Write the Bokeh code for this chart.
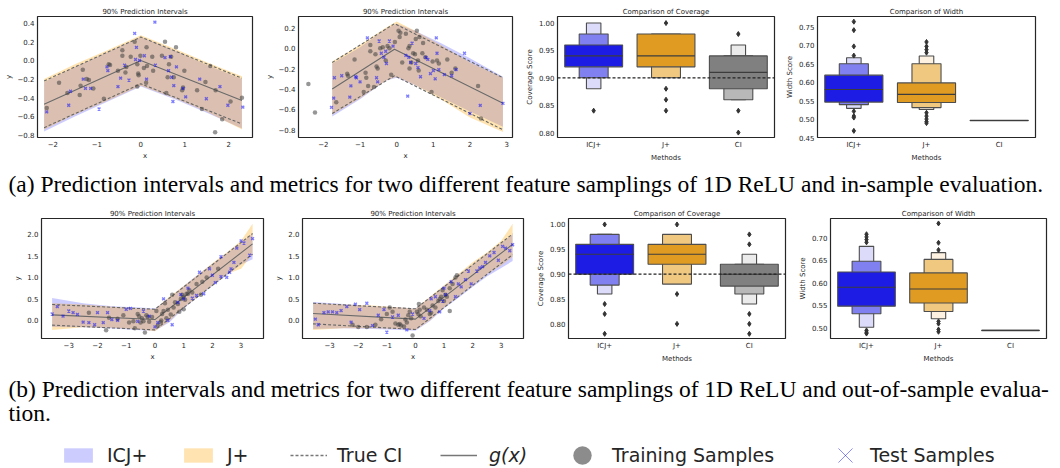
from bokeh.plotting import figure
from bokeh.layouts import column, row
from bokeh.models import Range1d, Span, Label, Legend, LegendItem, CustomJSTickFormatter
from bokeh.embed import file_html
from bokeh.resources import INLINE

# ---------------- data ----------------
methods = ["ICJ+", "J+", "CI"]

# Panel (a) left
p1_train_x = [-2.14,-1.86,-1.67,-1.39,-1.37,-1.32,-1.23,-1.18,-1.08,-0.84,-0.73,-0.70,-0.52,-0.42,-0.42,-0.35,-0.33,-0.23,-0.14,-0.08,-0.08,-0.06,-0.05,-0.01,0.07,0.12,0.13,0.14,0.26,0.28,0.48,0.55,0.58,0.61,0.64,0.69,0.80,0.75,0.94,0.96,0.99,1.28,1.39,1.47,1.58,1.70,1.85,1.69,2.04,2.30]
p1_train_y = [-0.51,-0.24,-0.35,-0.37,-0.27,-0.10,-0.20,-0.21,-0.30,-0.41,-0.04,-0.05,-0.11,0.11,0.05,-0.13,-0.07,0.04,0.20,-0.04,-0.28,-0.14,-0.16,0.05,-0.08,-0.24,0.14,-0.06,0.04,-0.11,0.05,0.20,-0.35,-0.18,-0.04,0.04,0.14,-0.18,-0.32,-0.29,-0.11,-0.32,-0.52,-0.23,-0.06,-0.32,-0.63,-0.77,-0.44,-0.40]
p1_test_x = [-2.14,-1.64,-1.60,-1.31,-1.26,-1.14,-0.95,-0.77,-0.75,-0.52,-0.46,-0.37,-0.27,-0.14,-0.12,-0.10,-0.03,0.08,0.13,0.32,0.33,0.55,0.63,0.67,0.70,0.73,0.75,0.81,0.96,1.02,1.34,1.49,1.80,1.98,2.32]
p1_test_y = [-0.55,-0.48,-0.33,-0.20,-0.30,-0.30,-0.52,-0.07,-0.11,-0.28,-0.19,-0.05,-0.21,0.29,0.01,0.14,0.00,0.05,-0.20,0.41,-0.05,0.03,-0.11,0.04,-0.18,-0.44,-0.27,-0.07,-0.30,-0.39,-0.20,-0.41,-0.28,-0.48,-0.50]
p1_g_x = [-2.2, 0.0, 2.3]
p1_g_y = [-0.47, 0.0, -0.43]
p1_ci_lo = [-0.72, -0.25, -0.68]
p1_ci_hi = [-0.22, 0.25, -0.19]
p1_band_x = [-2.2, -1.5, -0.8, 0.0, 0.8, 1.5, 2.3]
p1_icj_lo = [-0.76, -0.60, -0.45, -0.28, -0.42, -0.56, -0.73]
p1_icj_hi = [-0.23, -0.07, 0.08, 0.25, 0.10, -0.05, -0.20]
p1_jp_lo = [-0.74, -0.58, -0.44, -0.27, -0.41, -0.55, -0.74]
p1_jp_hi = [-0.20, -0.04, 0.10, 0.27, 0.12, -0.02, -0.17]
p1_xticks = [-2, -1, 0, 1, 2]
p1_yticks = [-0.8, -0.6, -0.4, -0.2, 0.0, 0.2, 0.4]

# Panel (a) second
p2_train_x = [-2.41,-2.23,-1.65,-1.35,-1.33,-1.15,-0.85,-0.83,-0.72,-0.72,-0.58,-0.55,-0.52,-0.45,-0.38,-0.30,-0.25,-0.20,-0.15,-0.05,0.05,0.08,0.10,0.15,0.25,0.32,0.35,0.35,0.40,0.45,0.50,0.52,0.55,0.58,0.60,0.62,0.70,0.72,0.78,0.95,0.98,1.10,1.15,1.38,1.50,1.60,2.22,2.30,-0.90,-0.78,-0.62]
p2_train_y = [-0.35,-0.63,-0.53,-0.25,-0.27,-0.11,-0.24,-0.29,-0.03,0.03,-0.06,-0.18,-0.20,0.00,0.01,-0.12,0.02,0.00,-0.26,0.06,0.17,0.11,0.15,-0.14,0.14,0.00,0.02,-0.20,-0.14,-0.05,-0.06,0.09,0.17,-0.12,-0.22,0.11,-0.05,0.05,-0.09,-0.43,-0.13,-0.12,-0.15,-0.11,-0.24,-0.20,-0.37,-0.69,-0.43,-0.37,-0.38]
p2_test_x = [-1.78,-1.72,-1.70,-1.50,-1.28,-1.25,-1.12,-1.10,-1.00,-0.80,-0.55,-0.52,-0.48,-0.42,-0.35,-0.30,-0.28,-0.20,-0.10,0.25,0.30,0.33,0.38,0.42,0.52,0.58,0.65,0.80,0.85,0.92,1.00,1.05,1.08,1.10,1.15,1.30,1.50,1.62,1.85,2.00,2.28,2.90]
p2_test_y = [-0.58,-0.49,-0.29,-0.27,-0.48,-0.37,-0.28,-0.29,-0.33,0.10,-0.29,-0.33,0.07,-0.05,-0.09,-0.03,-0.15,0.07,0.02,-0.07,-0.47,-0.09,-0.14,0.05,-0.15,-0.19,-0.28,-0.09,-0.11,-0.25,-0.22,-0.30,0.10,-0.05,-0.21,-0.26,-0.27,-0.21,-0.05,-0.64,-0.56,-0.54]
p2_g_x = [-1.76, -0.06, 2.9]
p2_g_y = [-0.40, -0.01, -0.54]
p2_ci_lo = [-0.64, -0.27, -0.80]
p2_ci_hi = [-0.14, 0.24, -0.29]
p2_band_x = [-1.76, -1.0, -0.3, 0.0, 0.5, 1.2, 2.0, 2.9]
p2_icj_lo = [-0.67, -0.50, -0.32, -0.29, -0.36, -0.48, -0.62, -0.77]
p2_icj_hi = [-0.15, 0.01, 0.19, 0.24, 0.17, 0.05, -0.10, -0.28]
p2_jp_lo = [-0.65, -0.49, -0.32, -0.28, -0.36, -0.50, -0.68, -0.82]
p2_jp_hi = [-0.13, 0.03, 0.20, 0.26, 0.17, 0.03, -0.14, -0.29]
p2_xticks = [-2, -1, 0, 1, 2, 3]
p2_yticks = [-0.8, -0.6, -0.4, -0.2, 0.0, 0.2]

# Panel (b) left
p5_train_x = [-2.3,-1.7,-1.6,-1.3,-1.1,-0.9,-0.75,-0.7,-0.6,-0.55,-0.5,-0.45,-0.4,-0.35,-0.3,-0.25,-0.2,-0.1,0.05,0.1,0.2,0.22,0.25,0.3,0.35,0.4,0.45,0.55,0.6,0.65,0.7,0.8,0.85,0.9,0.95,1.0,1.05,1.1,1.15,1.2,1.3,1.45,1.6,1.65,1.8,2.2,1.0]
p5_train_y = [0.18,-0.23,0.06,0.04,0.12,-0.05,-0.02,-0.18,0.15,0.10,-0.05,0.05,-0.02,-0.28,0.12,0.08,-0.03,0.08,0.22,-0.12,-0.04,0.00,0.15,0.22,0.40,0.05,0.25,0.14,0.60,0.30,0.42,0.38,0.20,0.50,0.60,0.55,0.48,0.62,0.62,0.70,0.65,0.85,0.60,0.90,1.00,1.20,0.26]
p5_test_x = [-3.58,-3.4,-3.2,-3.0,-2.85,-2.7,-2.5,-2.3,-2.1,-2.0,-1.8,-1.65,-1.5,-1.3,-1.0,-0.85,-0.6,-0.4,-0.2,0.0,0.1,0.3,0.45,0.6,0.8,0.9,1.0,1.15,1.3,1.45,1.55,1.7,1.9,2.0,2.1,2.3,2.5,2.6,2.75,2.85,3.0,3.1,3.3,3.4,2.3,2.65]
p5_test_y = [0.15,0.32,0.10,0.22,0.18,0.14,-0.04,-0.05,-0.10,0.18,-0.05,0.18,0.02,0.00,0.26,0.28,-0.02,0.22,0.10,-0.15,-0.05,0.50,0.00,-0.10,0.42,0.60,0.50,0.75,0.52,0.58,1.12,0.62,1.20,1.05,0.88,1.02,1.00,1.12,1.35,1.68,1.85,1.80,1.52,1.90,1.48,1.20]
p5_g_x = [-3.58, 0.0, 3.4]
p5_g_y = [0.13, 0.02, 1.78]
p5_ci_lo = [-0.11, -0.22, 1.54]
p5_ci_hi = [0.37, 0.26, 2.02]
band_x_b = [-3.58, -2.5, -1.5, -0.5, 0.0, 0.5, 1.0, 1.5, 2.0, 2.5, 3.0, 3.4]
p5_icj_lo = [-0.15, -0.16, -0.19, -0.23, -0.24, -0.05, 0.28, 0.55, 0.80, 1.05, 1.30, 1.42]
p5_icj_hi = [0.52, 0.40, 0.33, 0.30, 0.28, 0.52, 0.80, 1.07, 1.32, 1.56, 1.80, 2.02]
p5_jp_lo = [-0.22, -0.16, -0.17, -0.21, -0.25, -0.02, 0.30, 0.56, 0.82, 1.08, 1.20, 1.55]
p5_jp_hi = [0.40, 0.37, 0.32, 0.28, 0.26, 0.55, 0.80, 1.06, 1.33, 1.58, 1.85, 2.25]

# Panel (b) second
p6_train_x = [-2.2,-2.0,-1.7,-1.4,-1.2,-1.0,-0.9,-0.8,-0.7,-0.6,-0.55,-0.5,-0.4,-0.35,-0.3,-0.25,-0.2,-0.15,-0.1,0.05,0.1,0.12,0.15,0.18,0.3,0.4,0.5,0.55,0.6,0.7,0.8,0.85,0.9,0.95,1.0,1.05,1.1,1.2,1.3,1.4,1.45,1.2]
p6_train_y = [-0.1,-0.15,-0.15,-0.1,0.03,0.15,0.3,0.2,-0.07,-0.1,-0.08,-0.12,-0.14,0.02,-0.05,0.12,0.2,0.05,-0.35,0.2,0.15,0.38,0.25,0.1,0.3,0.25,0.15,0.18,0.35,0.3,0.45,0.5,0.55,0.7,0.45,0.6,0.55,0.22,0.85,1.0,1.05,0.75]
p6_test_x = [-3.5,-3.4,-3.2,-3.05,-2.9,-2.75,-2.6,-2.4,-2.25,-2.1,-1.95,-1.7,-1.5,-1.3,-1.1,-1.0,-0.8,-0.6,-0.3,-0.1,0.3,0.5,0.55,0.7,0.85,0.95,1.0,1.05,1.25,1.4,1.5,1.6,1.75,1.85,1.95,2.15,2.25,2.35,2.45,2.6,2.75,2.9,3.05,3.15,3.3,3.4]
p6_test_y = [0.03,-0.1,0.18,0.2,0.2,0.18,0.23,0.32,-0.04,0.38,0.25,0.4,-0.12,0.12,0.25,-0.27,0.08,0.12,-0.22,0.15,0.05,0.23,0.5,0.55,0.2,0.45,0.75,0.6,0.9,0.55,0.85,0.78,0.95,1.15,0.85,1.15,1.22,1.25,1.35,1.5,1.58,1.4,1.72,1.68,1.62,1.76]
p6_g_x = [-3.58, 0.0, 3.4]
p6_g_y = [0.16, 0.03, 1.77]
p6_ci_lo = [-0.08, -0.21, 1.53]
p6_ci_hi = [0.40, 0.27, 2.01]
p6_icj_lo = [-0.20, -0.18, -0.20, -0.22, -0.24, -0.02, 0.28, 0.52, 0.78, 1.02, 1.22, 1.38]
p6_icj_hi = [0.43, 0.38, 0.33, 0.30, 0.28, 0.53, 0.80, 1.06, 1.30, 1.55, 1.80, 2.00]
p6_jp_lo = [-0.22, -0.18, -0.18, -0.20, -0.22, 0.00, 0.30, 0.56, 0.82, 1.08, 1.28, 1.48]
p6_jp_hi = [0.40, 0.37, 0.35, 0.30, 0.27, 0.55, 0.82, 1.08, 1.35, 1.58, 1.85, 2.25]
pb_xticks = [-3, -2, -1, 0, 1, 2, 3]
pb_yticks = [0.0, 0.5, 1.0, 1.5, 2.0]

# Letter-value (boxen) summaries: levels from innermost to outermost (low, high)
cov_a_levels = {"ICJ+": [(0.92, 0.96), (0.90, 0.98), (0.88, 1.00)],
                "J+": [(0.92, 0.98), (0.90, 0.98)],
                "CI": [(0.88, 0.94), (0.86, 0.94), (0.86, 0.96)]}
cov_a_median = {"ICJ+": 0.94, "J+": 0.94, "CI": 0.91}
cov_a_outliers = {"ICJ+": [0.84], "J+": [1.00, 0.88, 0.86, 0.84], "CI": [0.98, 0.84, 0.80]}

wid_a_levels = {"ICJ+": [(0.546, 0.619), (0.539, 0.650), (0.529, 0.666)],
                "J+": [(0.545, 0.598), (0.531, 0.650), (0.526, 0.671)],
                "CI": [(0.4955, 0.4965)]}
wid_a_median = {"ICJ+": 0.580, "J+": 0.567, "CI": 0.496}
wid_a_outliers = {"ICJ+": [0.764, 0.741, 0.697, 0.672, 0.521, 0.508, 0.504, 0.468],
                  "J+": [0.709, 0.697, 0.688, 0.680, 0.517, 0.508, 0.500, 0.493, 0.489],
                  "CI": []}

cov_b_levels = {"ICJ+": [(0.90, 0.96), (0.878, 0.98), (0.86, 0.98)],
                "J+": [(0.92, 0.96), (0.88, 0.98)],
                "CI": [(0.876, 0.92), (0.86, 0.92), (0.84, 0.94)]}
cov_b_median = {"ICJ+": 0.94, "J+": 0.94, "CI": 0.90}
cov_b_outliers = {"ICJ+": [1.00, 0.84, 0.82, 0.78], "J+": [1.00, 0.86, 0.80],
                  "CI": [0.98, 0.96, 0.82, 0.80, 0.78]}

wid_b_levels = {"ICJ+": [(0.548, 0.624), (0.531, 0.648), (0.501, 0.681)],
                "J+": [(0.555, 0.622), (0.536, 0.652), (0.520, 0.667)],
                "CI": [(0.4935, 0.4945)]}
wid_b_median = {"ICJ+": 0.590, "J+": 0.586, "CI": 0.494}
wid_b_outliers = {"ICJ+": [0.708, 0.702, 0.696, 0.690, 0.494, 0.490, 0.487],
                  "J+": [0.732, 0.689, 0.673, 0.514, 0.509, 0.496, 0.491],
                  "CI": []}

target_coverage = 0.90
cov_yticks = [0.80, 0.85, 0.90, 0.95, 1.00]
wid_a_yticks = [0.45, 0.50, 0.55, 0.60, 0.65, 0.70, 0.75]
wid_b_yticks = [0.50, 0.55, 0.60, 0.65, 0.70]

caption_a = "(a) Prediction intervals and metrics for two different feature samplings of 1D ReLU and in-sample evaluation."
caption_b = ["(b) Prediction intervals and metrics for two different feature samplings of 1D ReLU and out-of-sample evalua-",
             "tion."]
legend_labels = ["ICJ+", "J+", "True CI", "g(x)", "Training Samples", "Test Samples"]

# ---------------- style ----------------
FONT = "DejaVu Sans"
TXT = "#262626"
level_widths = [0.8, 0.4, 0.2]
level_colors = {"ICJ+": ["#1c1ce4", "#8080f0", "#dcdcfa"],
                "J+": ["#e09b22", "#f0c880", "#fdf2e1"],
                "CI": ["#808080", "#b8b8b8", "#ebebeb"]}


def fmt(d):
    return CustomJSTickFormatter(args=dict(d=d), code="""
        const s = Math.abs(tick).toFixed(d);
        return (tick < -1e-9 ? '\u2212' : '') + s;
    """)


def base_fig(width, height, left, right, top, bottom, xr, yr, title):
    p = figure(width=width, height=height, x_range=Range1d(*xr), y_range=Range1d(*yr),
               output_backend="svg", toolbar_location=None, title=title,
               min_border_left=left, min_border_right=right,
               min_border_top=top, min_border_bottom=bottom)
    p.title.align = "center"
    p.title.text_font = FONT
    p.title.text_font_size = "7px"
    p.title.text_font_style = "normal"
    p.title.text_color = TXT
    p.title.standoff = 1
    p.grid.visible = False
    p.outline_line_color = "#262626"
    p.outline_line_width = 1.2
    for ax in p.axis:
        ax.axis_line_color = None
        ax.major_tick_line_color = None
        ax.minor_tick_line_color = None
        ax.major_tick_out = 0
        ax.major_tick_in = 0
        ax.minor_tick_out = 0
        ax.major_label_text_font = FONT
        ax.major_label_text_font_size = "7px"
        ax.major_label_text_color = TXT
        ax.major_label_standoff = 3
        ax.axis_label_text_font = FONT
        ax.axis_label_text_font_size = "7px"
        ax.axis_label_text_font_style = "normal"
        ax.axis_label_text_color = TXT
        ax.axis_label_standoff = 2
    return p


def scatter_panel(width, height, left, right, top, bottom, xr, yr, xticks, yticks,
                  bx, icj_lo, icj_hi, jp_lo, jp_hi, gx, gy, ci_lo, ci_hi,
                  trx, tr_y, tex, tey):
    p = base_fig(width, height, left, right, top, bottom, xr, yr, "90% Prediction Intervals")
    p.xaxis.axis_label = "x"
    p.yaxis.axis_label = "y"
    p.xaxis.ticker = xticks
    p.yaxis.ticker = yticks
    p.xaxis.formatter = fmt(0)
    p.yaxis.formatter = fmt(1)
    p.varea(x=bx, y1=icj_lo, y2=icj_hi, fill_color="blue", fill_alpha=0.2)
    p.varea(x=bx, y1=jp_lo, y2=jp_hi, fill_color="#ffa500", fill_alpha=0.3)
    p.line(gx, ci_lo, line_color="#666666", line_width=1.1, line_dash="3 2")
    p.line(gx, ci_hi, line_color="#666666", line_width=1.1, line_dash="3 2")
    p.line(gx, gy, line_color="#6a6a6a", line_width=1.1)
    p.scatter(trx, tr_y, marker="circle", size=4.5, fill_color="#404040", fill_alpha=0.55, line_color=None)
    p.scatter(tex, tey, marker="x", size=4, line_color="blue", line_alpha=0.5, line_width=1.4)
    return p


def boxen_panel(width, height, left, right, top, bottom, yr, yticks, title, ylabel,
                levels, medians, outliers, target=None):
    p = base_fig(width, height, left, right, top, bottom, (-0.5, 2.5), yr, title)
    p.xaxis.axis_label = "Methods"
    p.yaxis.axis_label = ylabel
    p.xaxis.ticker = list(range(len(methods)))
    p.xaxis.major_label_overrides = {i: m for i, m in enumerate(methods)}
    p.yaxis.ticker = yticks
    p.yaxis.formatter = fmt(2)
    for i, m in enumerate(methods):
        levs = levels[m]
        for k in reversed(range(len(levs))):
            lo, hi = levs[k]
            w = level_widths[k]
            p.quad(left=[i - w / 2], right=[i + w / 2], bottom=[lo], top=[hi],
                   fill_color=level_colors[m][k], line_color="#4d4d4d", line_width=1.1)
        w0 = level_widths[0]
        p.segment(x0=[i - w0 / 2], x1=[i + w0 / 2], y0=[medians[m]], y1=[medians[m]],
                  line_color="#3c3c3c", line_width=1.1)
        if outliers[m]:
            p.scatter([i] * len(outliers[m]), outliers[m], marker="diamond", size=5,
                      fill_color="#333333", line_color="#333333")
    if target is not None:
        p.add_layout(Span(location=target, dimension="width", line_color="#222222",
                          line_dash="3 2", line_width=1.2))
    return p


# ---------------- row 1 ----------------
H1 = 168
p1 = scatter_panel(262, H1, 37, 10, 16, H1 - 137, (-2.35, 2.54), (-0.825, 0.47), p1_xticks, p1_yticks,
                   p1_band_x, p1_icj_lo, p1_icj_hi, p1_jp_lo, p1_jp_hi, p1_g_x, p1_g_y, p1_ci_lo, p1_ci_hi,
                   p1_train_x, p1_train_y, p1_test_x, p1_test_y)
p2 = scatter_panel(260, H1, 34, 10, 16, H1 - 137, (-2.68, 3.16), (-0.875, 0.31), p2_xticks, p2_yticks,
                   p2_band_x, p2_icj_lo, p2_icj_hi, p2_jp_lo, p2_jp_hi, p2_g_x, p2_g_y, p2_ci_lo, p2_ci_hi,
                   p2_train_x, p2_train_y, p2_test_x, p2_test_y)
p3 = boxen_panel(260, H1, 31, 8, 16, H1 - 139, (0.791, 1.012), cov_yticks, "Comparison of Coverage",
                 "Coverage Score", cov_a_levels, cov_a_median, cov_a_outliers, target_coverage)
p4 = boxen_panel(278, H1, 31, 25, 16, H1 - 140, (0.45, 0.778), wid_a_yticks, "Comparison of Width",
                 "Width Score", wid_a_levels, wid_a_median, wid_a_outliers)

# ---------------- row 2 ----------------
H2 = 172
p5 = scatter_panel(272, H2, 41, 9, 20, H2 - 140, (-3.95, 3.78), (-0.42, 2.37), pb_xticks, pb_yticks,
                   band_x_b, p5_icj_lo, p5_icj_hi, p5_jp_lo, p5_jp_hi, p5_g_x, p5_g_y, p5_ci_lo, p5_ci_hi,
                   p5_train_x, p5_train_y, p5_test_x, p5_test_y)
p6 = scatter_panel(261, H2, 29, 10, 20, H2 - 140, (-3.95, 3.78), (-0.42, 2.37), pb_xticks, pb_yticks,
                   band_x_b, p6_icj_lo, p6_icj_hi, p6_jp_lo, p6_jp_hi, p6_g_x, p6_g_y, p6_ci_lo, p6_ci_hi,
                   p6_train_x, p6_train_y, p6_test_x, p6_test_y)
p7 = boxen_panel(262, H2, 31, 10, 20, H2 - 143, (0.7706, 1.012), cov_yticks, "Comparison of Coverage",
                 "Coverage Score", cov_b_levels, cov_b_median, cov_b_outliers, target_coverage)
p8 = boxen_panel(265, H2, 29, 14, 20, H2 - 144, (0.476, 0.743), wid_b_yticks, "Comparison of Width",
                 "Width Score", wid_b_levels, wid_b_median, wid_b_outliers)


# ---------------- captions ----------------
def text_fig(height, lines):
    f = figure(width=1060, height=height, x_range=Range1d(0, 1), y_range=Range1d(0, 1),
               x_axis_type=None, y_axis_type=None, output_backend="svg", toolbar_location=None,
               min_border=0, outline_line_color=None)
    f.grid.visible = False
    for txt, yy in lines:
        f.add_layout(Label(x=8, y=yy, x_units="screen", y_units="screen", text=txt,
                           text_baseline="middle", text_font="Liberation Serif",
                           text_font_size="23.5px", text_color="black"))
    return f


capA = text_fig(30, [(caption_a, 15)])
capB = text_fig(60, [(caption_b[0], 42), (caption_b[1], 18)])

# ---------------- legend ----------------
LH = 38
leg = figure(width=1060, height=LH, x_range=Range1d(0, 1), y_range=Range1d(0, 1),
             x_axis_type=None, y_axis_type=None, output_backend="svg", toolbar_location=None,
             min_border=0, outline_line_color=None)
leg.grid.visible = False
# off-screen proxy glyphs, used only to draw the legend keys
off_x = [-9.0, -8.0]
off_y = [-9.0, -9.0]
r_icj = leg.varea(x=off_x, y1=off_y, y2=off_x, fill_color="blue", fill_alpha=0.2)
r_jp = leg.varea(x=off_x, y1=off_y, y2=off_x, fill_color="#ffa500", fill_alpha=0.3)
r_ci = leg.line(x=off_x, y=off_y, line_color="#777777", line_width=1.3, line_dash="3 2")
r_g = leg.line(x=off_x, y=off_y, line_color="#777777", line_width=1.5)
r_tr = leg.scatter(x=off_x, y=off_y, marker="circle", fill_color="#8c8c8c", line_color=None)
r_te = leg.scatter(x=off_x, y=off_y, marker="x", line_color="blue", line_alpha=0.45, line_width=1)

specs = [(legend_labels[0], r_icj, 60, 36, 18, 11, False),
         (legend_labels[1], r_jp, 180, 36, 18, 11, False),
         (legend_labels[2], r_ci, 290, 37, 18, 10, False),
         (legend_labels[3], r_g, 440, 37, 18, 12, True),
         (legend_labels[4], r_tr, 559, 46, 46, 7, False),
         (legend_labels[5], r_te, 820, 50, 50, 0, False)]
center_from_bottom = 13
for lab, r, x0, gw, gh, so, ital in specs:
    h = max(gh, 22)
    lg = Legend(items=[LegendItem(label=lab, renderers=[r])], location=(x0, center_from_bottom - h / 2),
                orientation="horizontal", glyph_width=gw, glyph_height=gh, label_standoff=so,
                padding=0, margin=0, border_line_color=None, background_fill_alpha=0,
                label_text_font=FONT, label_text_font_size="19px", label_text_color=TXT,
                label_text_font_style="italic" if ital else "normal")
    leg.add_layout(lg, "center")

layout = column(row(p1, p2, p3, p4), capA, row(p5, p6, p7, p8), capB, leg)
open("out.html", "w").write(file_html(layout, INLINE))
